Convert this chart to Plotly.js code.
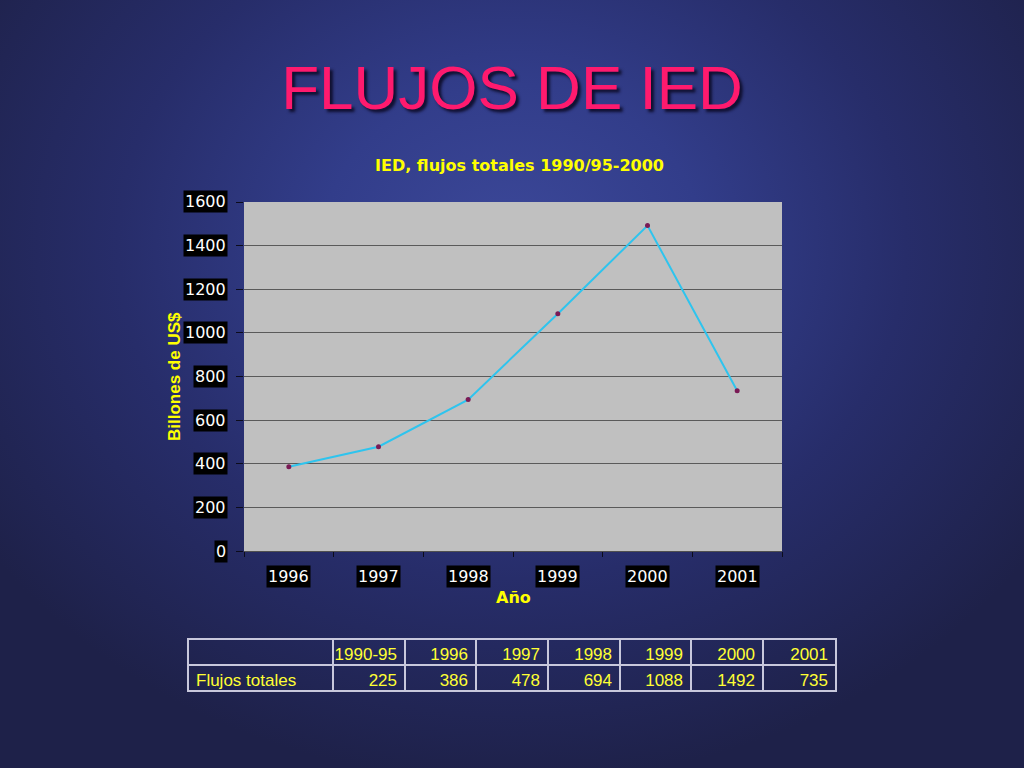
<!DOCTYPE html>
<html>
<head>
<meta charset="utf-8">
<script src="https://cdn.plot.ly/plotly-3.0.1.min.js"></script>
<style>
html, body { margin:0; padding:0; width:1024px; height:768px; overflow:hidden; }
body { background: radial-gradient(ellipse 62% 70% at 50% 32%, #3c4899 0%, #323d8a 30%, #272d6a 62%, #1e2149 100%); }
#chart { width:1024px; height:768px; }
</style>
</head>
<body>
<div id="chart"></div>
<script>
// ---- data ----
const years = ['1996', '1997', '1998', '1999', '2000', '2001'];
const flows = [386, 478, 694, 1088, 1492, 735];
const tablePeriods = ['1990-95', '1996', '1997', '1998', '1999', '2000', '2001'];
const tableValues = [225, 386, 478, 694, 1088, 1492, 735];
const rowLabel = 'Flujos totales';
const yTicks = [0, 200, 400, 600, 800, 1000, 1200, 1400, 1600];

const W = 1024, H = 768;
const px = v => v / W;
const py = v => 1 - v / H;

const line = {
  type: 'scatter', mode: 'lines+markers',
  x: years, y: flows,
  line: { color: '#2ec4ee', width: 2 },
  marker: { color: '#7a1a55', size: 5 },
  xaxis: 'x', yaxis: 'y', hoverinfo: 'x+y'
};

const tableFont = { family: 'Liberation Sans, Arial', size: 17, color: '#ffff33' };
const table = {
  type: 'table',
  domain: { x: [px(188), px(836)], y: [py(696), py(639)] },
  columnwidth: [145, 72, 71, 72, 72, 71, 72, 73],
  header: {
    values: [''].concat(tablePeriods),
    align: ['left'].concat(tablePeriods.map(() => 'right')),
    height: 26,
    fill: { color: 'rgba(0,0,0,0)' },
    line: { color: '#c8c8dc', width: 1.5 },
    font: tableFont
  },
  cells: {
    values: [[rowLabel]].concat(tableValues.map(v => [v])),
    align: ['left'].concat(tableValues.map(() => 'right')),
    height: 26,
    fill: { color: 'rgba(0,0,0,0)' },
    line: { color: '#c8c8dc', width: 1.5 },
    font: tableFont
  }
};

const tickFont = { family: 'DejaVu Sans, Liberation Sans, Arial', size: 16, color: '#ffffff' };
const annotations = [];
// y tick labels with black boxes
yTicks.forEach(v => annotations.push({
  xref: 'paper', yref: 'y', x: px(228), y: v, xanchor: 'right', yanchor: 'middle',
  text: String(v), showarrow: false, bgcolor: '#000000', borderpad: 1,
  font: tickFont
}));
// x tick labels with black boxes
years.forEach((c, i) => annotations.push({
  xref: 'x', yref: 'paper', x: i, y: py(576), xanchor: 'center', yanchor: 'middle',
  text: c, showarrow: false, bgcolor: '#000000', borderpad: 1,
  font: tickFont
}));
// chart subtitle
annotations.push({
  xref: 'paper', yref: 'paper', x: px(519), y: py(165), xanchor: 'center', yanchor: 'middle',
  text: 'IED, flujos totales 1990/95-2000', showarrow: false,
  font: { family: 'DejaVu Sans, Liberation Sans, Arial', size: 16, color: '#ffff00', weight: 'bold' }
});
// axis titles
annotations.push({
  xref: 'paper', yref: 'paper', x: px(513), y: py(597), xanchor: 'center', yanchor: 'middle',
  text: 'Año', showarrow: false,
  font: { family: 'DejaVu Sans, Liberation Sans, Arial', size: 16, color: '#ffff00', weight: 'bold' }
});
annotations.push({
  xref: 'paper', yref: 'paper', x: px(174), y: py(377), xanchor: 'center', yanchor: 'middle',
  text: 'Billones de US$', showarrow: false, textangle: -90,
  font: { family: 'Liberation Sans, Arial', size: 17, color: '#ffff00', weight: 'bold' }
});

const layout = {
  width: W, height: H,
  margin: { l: 0, r: 0, t: 0, b: 0 },
  paper_bgcolor: 'rgba(0,0,0,0)',
  plot_bgcolor: '#c0c0c0',
  showlegend: false,
  title: {
    text: 'FLUJOS DE IED',
    x: 0.5, xanchor: 'center', y: py(87), yanchor: 'middle', yref: 'paper',
    font: { family: 'Liberation Sans, Arial', size: 62, color: '#ff1a6e', shadow: '3px 3px 3px #101030' }
  },
  xaxis: {
    domain: [px(244), px(782)],
    type: 'category', range: [-0.5, 5.5],
    showticklabels: false, ticks: 'outside', ticklen: 5, tickcolor: '#0c0c1c', tickwidth: 1,
    tickson: 'boundaries', showgrid: false, zeroline: false,
    showline: true, linecolor: '#505050', linewidth: 1, fixedrange: true
  },
  yaxis: {
    domain: [py(551), py(202)],
    range: [0, 1600], tickvals: yTicks,
    showticklabels: false, ticks: 'outside', ticklen: 7, tickcolor: '#0c0c1c', tickwidth: 1,
    showgrid: true, gridcolor: '#5a5a5a', gridwidth: 1, zeroline: false,
    showline: false, fixedrange: true
  },
  annotations: annotations
};

Plotly.newPlot('chart', [line, table], layout, { displayModeBar: false, staticPlot: true });
</script>
</body>
</html>
